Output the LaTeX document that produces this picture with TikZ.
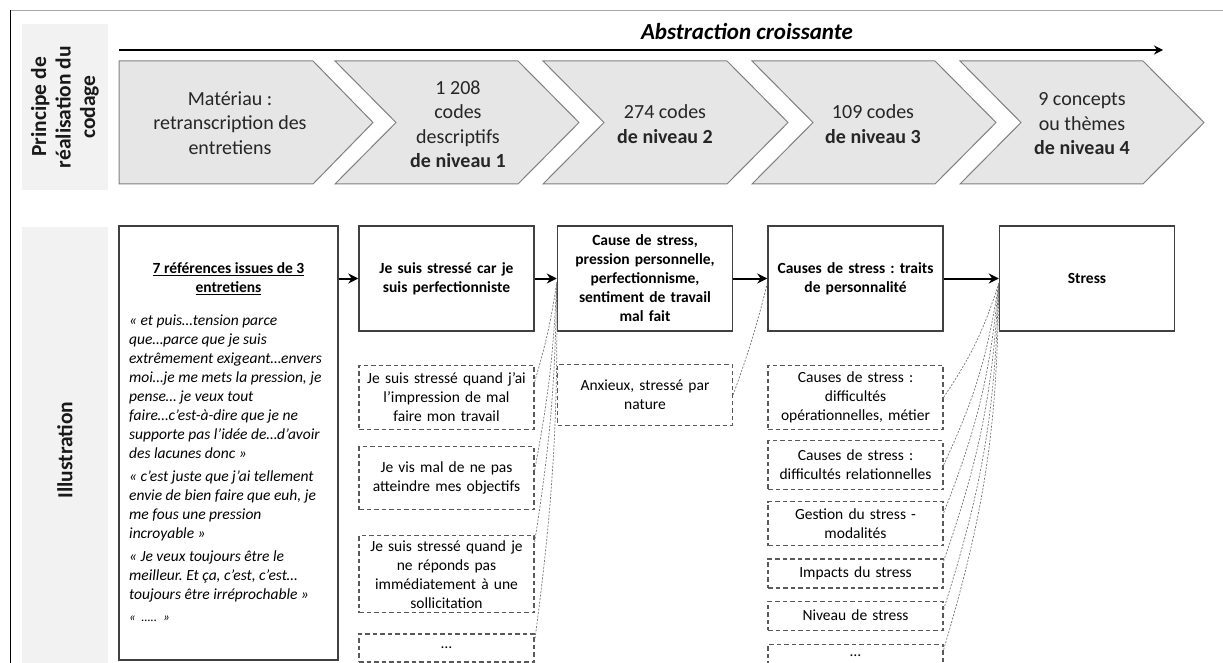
\documentclass[tikz,border=0pt]{standalone}
\usepackage{fontspec}
\setmainfont{Carlito}
\usepackage{tikz}
\usetikzlibrary{shapes.geometric, arrows.meta, positioning}
\frenchspacing
\definecolor{chevfill}{RGB}{231,230,230}
\definecolor{sidefill}{RGB}{242,242,242}
\tikzstyle{chev} = [draw=black!50, fill=chevfill, line width=1pt, line join=miter]
\tikzstyle{chevtext} = [align=center, text=black!85, font=\fontsize{20}{24.5}\selectfont]
\tikzstyle{side} = [rectangle, fill=sidefill, align=center, text=black!90, font=\fontsize{21.5}{24.5}\selectfont\bfseries]
\tikzstyle{mainbox} = [rectangle, draw=black!75, line width=1.5pt, minimum width=175pt, minimum height=105pt, text width=165pt, inner sep=0pt, align=center, font=\fontsize{15.5}{19}\selectfont\bfseries]
\tikzstyle{codebox} = [rectangle, draw=black!65, line width=1.2pt, dash pattern=on 4.5pt off 3pt, text width=171pt, inner sep=2pt, align=center, font=\fontsize{15.5}{19}\selectfont]
\tikzstyle{arrow} = [line width=2pt,->,>={Stealth[length=10pt,width=10pt]}]
\tikzstyle{link} = [draw=black!55, line width=0.7pt, dash pattern=on 2pt off 1.5pt]

\begin{document}
\begin{tikzpicture}[x=1pt, y=-1pt]
\useasboundingbox (0,0) rectangle (1223,663);
% frame
\draw [black!35, line width=1pt] (10,10.5) -- (1223,10.5);
\draw [black, line width=1pt] (10,10) -- (10,663);
% side labels
\node (principe) [side, rotate=90, minimum width=166pt, minimum height=86pt] at (65,107) {Principe de\\réalisation du\\codage};
\node (illus) [side, rotate=90, minimum width=446pt, minimum height=86pt] at (65,450) {Illustration};
% abstraction arrow
\coordinate (absL) at (119,50);
\coordinate (absR) at (1163,50);
\draw [line width=2.5pt,->,>={Stealth[length=9pt,width=9pt]}] (absL) -- (absR);
\node (abstr) [font=\fontsize{23}{26}\selectfont\bfseries\itshape] at (747,32) {Abstraction croissante};
% chevrons
\draw [chev] (119,61) -- (313,61) -- (373,122.5) -- (313,184) -- (119,184) -- cycle;
\draw [chev] (335,61) -- (518,61) -- (579,122.5) -- (518,184) -- (335,184) -- (396,122.5) -- cycle;
\draw [chev] (543,61) -- (727,61) -- (788,122.5) -- (727,184) -- (543,184) -- (604,122.5) -- cycle;
\draw [chev] (752,61) -- (935,61) -- (996,122.5) -- (935,184) -- (752,184) -- (813,122.5) -- cycle;
\draw [chev] (960,61) -- (1143,61) -- (1204,122.5) -- (1143,184) -- (960,184) -- (1021,122.5) -- cycle;
\node (lvl0) [chevtext] at (230,123) {Matériau :\\retranscription des\\entretiens};
\node (lvl1) [chevtext] at (458,124) {1 208\\codes\\descriptifs\\\textbf{de niveau 1}};
\node (lvl2) [chevtext] at (665,124) {274 codes\\\textbf{de niveau 2}};
\node (lvl3) [chevtext] at (873,124) {109 codes\\\textbf{de niveau 3}};
\node (lvl4) [chevtext] at (1082,124) {9 concepts\\ou thèmes\\\textbf{de niveau 4}};
% illustration boxes
\node (refs) [mainbox, minimum width=219pt, minimum height=434pt] at (228.5,443) {};
\node (refsT) [font=\fontsize{15.5}{19}\selectfont\bfseries, align=center] at (228.5,278.5) {\underline{7 références issues de 3}\\\underline{entretiens}};
\node (refsQ) [anchor=north west, align=left, inner sep=0pt, font=\fontsize{15.5}{19}\selectfont\itshape] at (129,315) {« et puis…tension parce\\que…parce que je suis\\extrêmement exigeant…envers\\moi…je me mets la pression, je\\pense… je veux tout\\faire…c’est-à-dire que je ne\\supporte pas l’idée de…d’avoir\\des lacunes donc »\\[4pt]« c’est juste que j’ai tellement\\envie de bien faire que euh, je\\me fous une pression\\incroyable »\\[4pt]« Je veux toujours être le\\meilleur. Et ça, c’est, c’est…\\toujours être irréprochable »\\[3pt]{\fontsize{13}{19}\selectfont «\ \ …..\ \ »}};
\node (perf) [mainbox] at (446.5,278.5) {Je suis stressé car je\\suis perfectionniste};
\node (cause) [mainbox, right=22pt of perf] {Cause de stress,\\pression personnelle,\\perfectionnisme,\\sentiment de travail\\mal fait};
\node (traits) [mainbox, right=34pt of cause] {Causes de stress : traits\\de personnalité};
\node (stress) [mainbox, right=55pt of traits] {Stress};
\draw [arrow] (refs.east |- perf.west) -- (perf.west);
\draw [arrow] (perf.east) -- (cause.west);
\draw [arrow] (cause.east) -- (traits.west);
\draw [arrow] (traits.east) -- (stress.west);
% level 1 codes
\node (b1) [codebox, minimum height=64pt, below=33pt of perf] {Je suis stressé quand j’ai\\l’impression de mal\\faire mon travail};
\node (b2) [codebox, minimum height=63pt, below=16pt of b1] {Je vis mal de ne pas\\atteindre mes objectifs};
\node (b3) [codebox, minimum height=77pt, below=25pt of b2] {Je suis stressé quand je\\ne réponds pas\\immédiatement à une\\sollicitation};
\node (b4) [codebox, minimum height=28pt, below=20pt of b3] {…};
% level 2 codes
\node (c1) [codebox, minimum height=61pt, below=32pt of cause] {Anxieux, stressé par\\nature};
% level 3 codes
\node (d1) [codebox, minimum height=64pt, below=33pt of traits] {Causes de stress :\\difficultés\\opérationnelles, métier};
\node (d2) [codebox, minimum height=49pt, below=10pt of d1] {Causes de stress :\\difficultés relationnelles};
\node (d3) [codebox, minimum height=44pt, below=11pt of d2] {Gestion du stress -\\modalités};
\node (d4) [codebox, minimum height=29pt, below=12pt of d3] {Impacts du stress};
\node (d5) [codebox, minimum height=29pt, below=12pt of d4] {Niveau de stress};
\node (d6) [codebox, minimum height=23pt, below=13pt of d5] {…};
% dotted links
\coordinate (causeIn) at ([yshift=-4pt]cause.west);
\coordinate (traitsIn) at ([yshift=-5pt]traits.west);
\coordinate (stressIn) at ([yshift=-5pt]stress.west);
\draw [link] (b1.10) to[bend right=4] (causeIn);
\draw [link] (b2.5) to[bend right=4] (causeIn);
\draw [link] (b3.20) to[bend right=4] (causeIn);
\draw [link] (b4.4) to[bend right=4] (causeIn);
\draw [link] (c1.east) to[bend right=3] (traitsIn);
\draw [link] (d1.east) to[bend right=8] (stressIn);
\draw [link] (d2.east) to[bend right=8] (stressIn);
\draw [link] (d3.7) to[bend right=8] (stressIn);
\draw [link] (d4.8) to[bend right=8] (stressIn);
\draw [link] (d5.4) to[bend right=8] (stressIn);
\draw [link] (d6.4) to[bend right=8] (stressIn);
\end{tikzpicture}
\end{document}
